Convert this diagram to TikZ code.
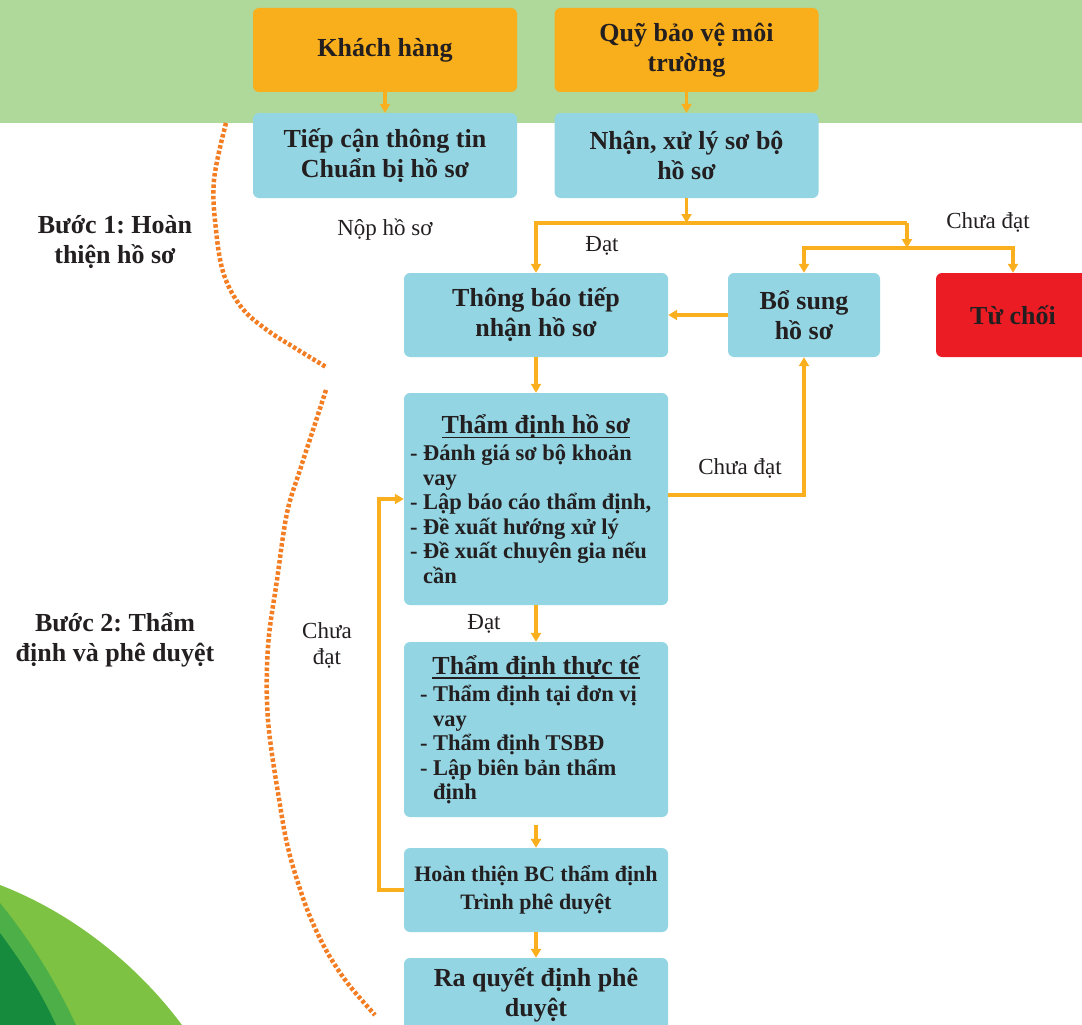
\documentclass[tikz,border=0pt]{standalone}
\usepackage{fontspec}
\setmainfont{Liberation Serif}
\usetikzlibrary{arrows.meta}
\definecolor{bandgreen}{HTML}{AFD89B}
\definecolor{boxorange}{HTML}{F9AE1C}
\definecolor{boxblue}{HTML}{93D5E2}
\definecolor{boxred}{HTML}{EC1C24}
\definecolor{lineorange}{HTML}{FAAF1E}
\definecolor{dotorange}{HTML}{F37D22}
\definecolor{txt}{HTML}{231F20}
\definecolor{glight}{HTML}{7DC242}
\definecolor{gmid}{HTML}{4DAF47}
\definecolor{gdark}{HTML}{168A3D}
\tikzset{
 base/.style={rounded corners=6pt, minimum width=264pt, minimum height=84pt, inner sep=6pt, align=center, text=txt, font=\fontsize{26}{30}\selectfont\bfseries},
 obox/.style={base, fill=boxorange},
 bbox/.style={base, fill=boxblue},
 rbox/.style={base, fill=boxred},
 conn/.style={draw=lineorange, line width=3.5pt},
 arr/.style={conn, -{Triangle[length=9pt,width=10pt]}},
 lbl/.style={text=txt, font=\fontsize{23}{27}\selectfont, align=center, inner sep=0pt},
 steplbl/.style={text=txt, font=\fontsize{26}{30}\selectfont\bfseries, align=center, inner sep=0pt},
 sepdots/.style={draw=dotorange, line width=4.5pt, dash pattern=on 3.5pt off 2.2pt},
 listfont/.style={font=\fontsize{22.5}{24.5}\selectfont\bfseries},
}
\newcommand{\ttlline}[2]{\makebox[#1]{\fontsize{26}{25}\selectfont\setbox0\hbox{#2}\rlap{\raisebox{-5pt}{\rule{\wd0}{1.6pt}}}\box0}}
\begin{document}
\frenchspacing
\begin{tikzpicture}[x=1pt,y={(0pt,-1pt)}]
\useasboundingbox (0,0) rectangle (1082,1025);
\clip (0,0) rectangle (1082,1025);
% background
\fill[bandgreen] (0,0) rectangle (1082,123);
\fill[glight] (0,885) .. controls (70,912) and (135,962) .. (182,1025) -- (0,1025) -- cycle;
\fill[gmid] (0,903) .. controls (30,940) and (55,980) .. (76,1025) -- (0,1025) -- cycle;
\fill[gdark] (0,933) .. controls (20,960) and (40,990) .. (56,1025) -- (0,1025) -- cycle;
% dotted separators
\draw[sepdots] plot[smooth, tension=0.6] coordinates {(226,123) (214,180) (216,230) (224,275) (242,308) (267,330) (295,348) (326,367)};
\draw[sepdots] plot[smooth, tension=0.6] coordinates {(326,390) (313,430) (300,470) (287,513) (277,580) (268,647) (268,720) (280,805) (289,852) (303,898) (315,928) (330,957) (349,985) (375,1015)};
% boxes
\node[obox] (kh) at (385,50) {Khách hàng};
\node[obox] (quy) at (686.5,50) {Quỹ bảo vệ môi\\trường};
\node[bbox, minimum height=85pt] (tc) at (385,155.5) {Tiếp cận thông tin\\Chuẩn bị hồ sơ};
\node[bbox, minimum height=85pt] (nx) at (686.5,155.5) {Nhận, xử lý sơ bộ\\hồ sơ};
\node[bbox] (tb) at (536,315) {Thông báo tiếp\\nhận hồ sơ};
\node[bbox, minimum width=152pt] (bs) at (804,315) {Bổ sung\\hồ sơ};
\node[rbox, minimum width=154pt] (tch) at (1013,315) {Từ chối};
\node[bbox, minimum height=212pt, text width=252pt, align=flush left, listfont] (td) at (536,499)
 {\ttlline{252pt}{Thẩm định hồ sơ}\\[3pt]- Đánh giá sơ bộ khoản\\\phantom{- }vay\\- Lập báo cáo thẩm định,\\- Đề xuất hướng xử lý\\- Đề xuất chuyên gia nếu\\\phantom{- }cần};
\node[bbox, minimum height=175pt, text width=232pt, align=flush left, listfont] (tt) at (536,729.5)
 {\ttlline{232pt}{Thẩm định thực tế}\\[3pt]- Thẩm định tại đơn vị\\\phantom{- }vay\\- Thẩm định TSBĐ\\- Lập biên bản thẩm\\\phantom{- }định};
\node[bbox, font=\fontsize{22}{28}\selectfont\bfseries] (ht) at (536,890) {Hoàn thiện BC thẩm định\\Trình phê duyệt};
\node[bbox, minimum height=74pt] (rq) at (536,995) {Ra quyết định phê\\duyệt};
% junctions
\coordinate (j1) at (686.5,223);
\coordinate (j2) at (907,223);
\coordinate (j3) at (907,248);
\coordinate (lp) at (379,0);
% connectors
\draw[arr] (kh) -- (tc);
\draw[arr] (quy) -- (nx);
\draw[arr] (nx.south) -- (j1);
\draw[arr] (j2) -- (tb.north |- j2) -- (tb.north);
\draw[arr] (j2) -- (j3);
\draw[arr] (j3) -- (bs.north |- j3) -- (bs.north);
\draw[arr] (j3) -- (tch.north |- j3) -- (tch.north);
\draw[arr] (bs.west) -- (tb.east);
\draw[arr] (tb) -- (td);
\draw[arr] ([yshift=4pt]td.east) -| (bs.south);
\draw[arr] (td) -- (tt);
\draw[arr, shorten <=8pt] (tt) -- (ht);
\draw[arr] (ht) -- (rq);
\draw[arr] (ht.west) -- (ht.west -| lp) -- (td.west -| lp) -- (td.west);
% labels
\node[lbl] (l1) at (385,230) {Nộp hồ sơ};
\node[lbl] (l2) at (602,246) {Đạt};
\node[lbl] (l3) at (988,222) {Chưa đạt};
\node[lbl] (l4) at (740,468) {Chưa đạt};
\node[lbl] (l5) at (484,624) {Đạt};
\node[lbl, font=\fontsize{23}{26}\selectfont] (l6) at (327,645) {Chưa\\đạt};
\node[steplbl] (s1) at (115,242) {Bước 1: Hoàn\\thiện hồ sơ};
\node[steplbl] (s2) at (115,640) {Bước 2: Thẩm\\định và phê duyệt};
\end{tikzpicture}
\end{document}
